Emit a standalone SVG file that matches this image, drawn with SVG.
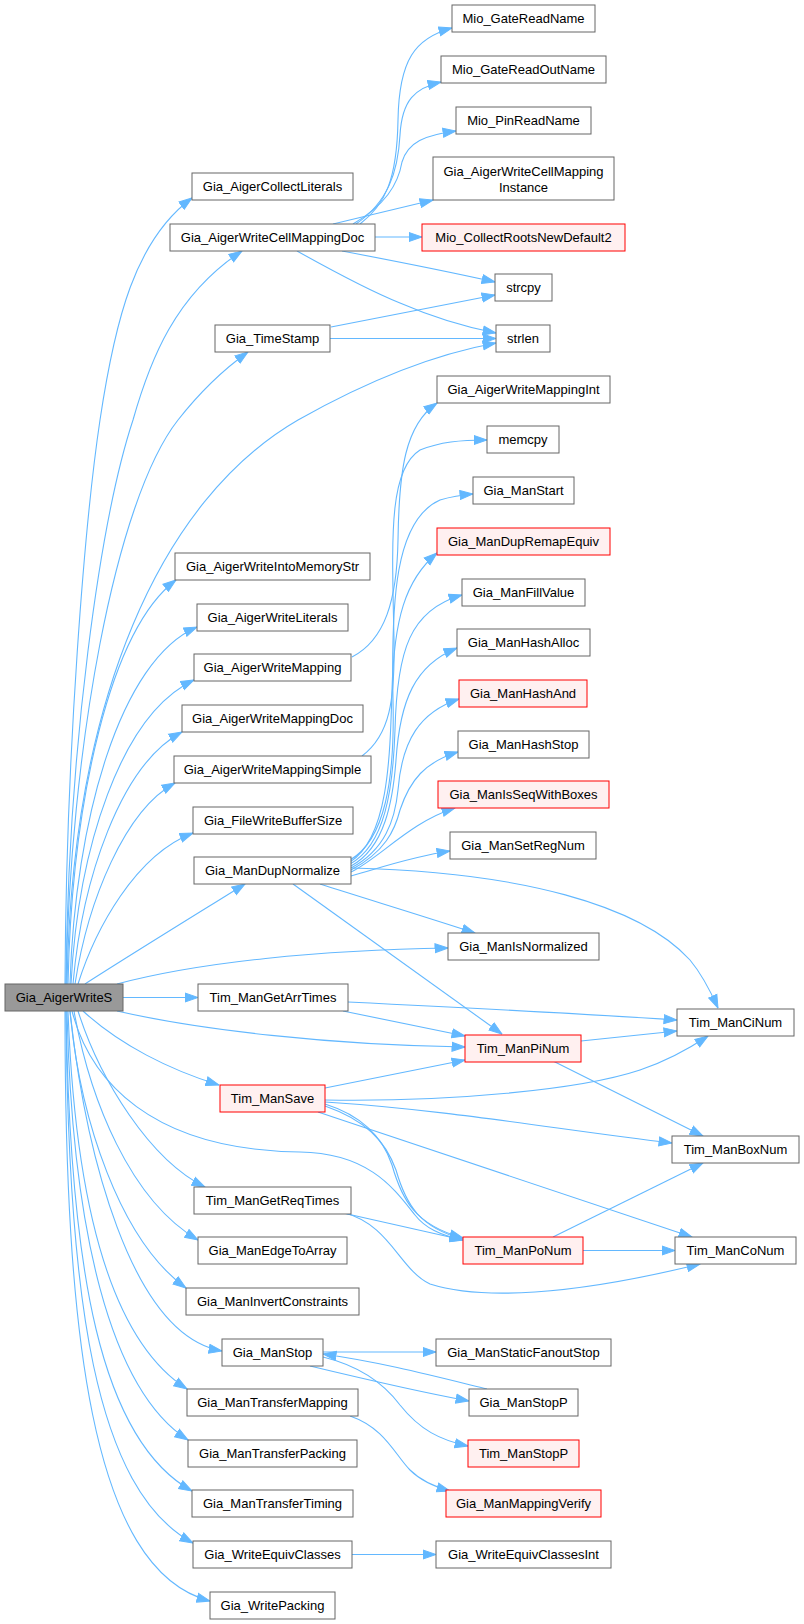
<svg xmlns="http://www.w3.org/2000/svg" width="804" height="1624" viewBox="0 0 804 1624">
<defs>
<marker id="ah" markerUnits="userSpaceOnUse" markerWidth="14" markerHeight="11" viewBox="0 0 14 11" refX="13.5" refY="5.5" orient="auto">
<path d="M0.5,1 L13.5,5.5 L0.5,10 z" fill="#63b8ff" stroke="#63b8ff" stroke-width="1"/>
</marker>
</defs>
<style>
.n rect{fill:#ffffff;stroke:#666666;stroke-width:1}
.r rect{fill:#fff0f0;stroke:#ff0000;stroke-width:1}
.root rect{fill:#999999;stroke:#666666;stroke-width:1}
text{font-family:"Liberation Sans",Arial,sans-serif;font-size:13px;fill:#000;text-anchor:middle}
.e path{fill:none;stroke:#63b8ff;stroke-width:1.1;marker-end:url(#ah)}
</style>
<rect width="804" height="1624" fill="#ffffff"/>
<g class="e" id="edges">
<path d="M65,984 C66,750 85,520 100,420 C115,320 135,240 192,198"/>
<path d="M66,984 C68,750 100,520 133,420 C150,360 175,295 242,251"/>
<path d="M66,984 C70,750 115,500 178,420 C200,392 220,372 248,352"/>
<path d="M67,984 C72,700 160,500 298,420 C360,385 430,355 496,343"/>
<path d="M68,984 C72,800 110,630 176,580"/>
<path d="M70,984 C75,820 120,660 197,627"/>
<path d="M71,984 C78,850 120,715 194,680"/>
<path d="M73,984 C82,880 120,765 182,732"/>
<path d="M75,984 C88,900 125,810 175,783"/>
<path d="M78,984 C95,930 135,855 193,833"/>
<path d="M85,984 C130,955 200,912 245,884"/>
<path d="M117,984 C200,962 320,950 448,948"/>
<path d="M123,997.5 L198,997.5"/>
<path d="M117,1011 C200,1030 330,1045 465,1047"/>
<path d="M83,1011 C120,1045 170,1070 219,1085"/>
<path d="M72,1011 C90,1080 150,1150 300,1152 C370,1153 395,1190 415,1215 C425,1228 440,1235 463,1240"/>
<path d="M78,1011 C100,1080 150,1160 205,1187"/>
<path d="M74,1011 C90,1100 130,1200 198,1240"/>
<path d="M70,1011 C80,1120 120,1240 186,1288"/>
<path d="M70,1011 C85,1150 130,1335 222,1351"/>
<path d="M68,1011 C75,1200 110,1340 187,1389"/>
<path d="M67,1011 C72,1230 110,1390 188,1440"/>
<path d="M66,1011 C70,1270 100,1440 192,1491"/>
<path d="M66,1011 C68,1300 95,1490 193,1543"/>
<path d="M65,1011 C65,1330 90,1570 210,1601"/>
<path d="M360,224 C385,205 397,180 398,120 C399,60 415,38 452,28"/>
<path d="M356,224 C388,202 398,172 400,135 C402,100 415,88 441,82"/>
<path d="M353,224 C385,205 398,185 402,162 C408,142 425,135 456,131"/>
<path d="M333,224 L433,200"/>
<path d="M375,237 L422,237"/>
<path d="M342,251 C400,262 450,272 495,282"/>
<path d="M297,251 C340,275 380,295 400,303 C430,316 460,326 496,333"/>
<path d="M331,327 L495,295"/>
<path d="M330,338.5 L496,338.5"/>
<path d="M352,657 C385,640 397,600 398,540 C399,470 405,425 437,403"/>
<path d="M362,756 C390,735 395,700 394,640 C392,540 388,470 420,450 C440,442 460,440 487,440"/>
<path d="M350,860 C385,840 395,780 393,700 C391,600 395,520 440,500 C450,497 460,495 473,494"/>
<path d="M350,862 C388,838 390,760 392,690 C394,620 405,580 437,553"/>
<path d="M350,864 C385,845 393,790 395,730 C397,650 410,610 462,595"/>
<path d="M351,866 C385,848 393,800 396,760 C400,700 415,665 457,648"/>
<path d="M351,868 C385,850 395,820 398,790 C402,740 420,712 459,699"/>
<path d="M351,870 C385,852 395,830 400,810 C410,780 425,762 458,752"/>
<path d="M351,872 C380,858 410,822 455,808"/>
<path d="M351,876 C380,868 410,857 450,851"/>
<path d="M352,868 C520,872 640,905 690,960 C700,972 710,990 718,1008"/>
<path d="M320,884 C370,900 420,915 475,933"/>
<path d="M293,884 L502,1034"/>
<path d="M348,1002 C450,1007 570,1013 677,1020"/>
<path d="M343,1011 L465,1036"/>
<path d="M581,1041 L677,1031"/>
<path d="M553,1061 L703,1136"/>
<path d="M325,1088 L465,1060"/>
<path d="M325,1100 C450,1102 580,1090 640,1070 C670,1060 690,1048 708,1036"/>
<path d="M325,1102 C450,1110 560,1130 672,1143"/>
<path d="M318,1112 L692,1237"/>
<path d="M325,1104 C360,1115 382,1135 392,1165 C402,1200 415,1225 463,1238"/>
<path d="M325,1106 C365,1120 385,1140 396,1170 C406,1205 420,1228 463,1239"/>
<path d="M343,1213 L463,1240"/>
<path d="M345,1213 C390,1225 400,1270 430,1284 C480,1300 570,1296 700,1264"/>
<path d="M553,1237 L703,1163"/>
<path d="M583,1250.5 L675,1250.5"/>
<path d="M323,1352 L436,1352"/>
<path d="M310,1366 C360,1378 420,1392 469,1401"/>
<path d="M323,1357 C360,1366 385,1385 400,1405 C420,1430 440,1440 468,1446"/>
<path d="M487,1389 C430,1375 380,1362 323,1354"/>
<path d="M350,1416 C385,1428 395,1455 410,1470 C420,1480 432,1486 450,1491"/>
<path d="M352,1554.5 L436,1554.5"/>
</g>
<g id="n_root" class="root"><rect x="5" y="984" width="118" height="27"/><text x="64" y="1002">Gia_AigerWriteS</text></g>
<g id="n1" class="n"><rect x="192" y="173" width="161" height="27"/><text x="272.5" y="191">Gia_AigerCollectLiterals</text></g>
<g id="n2" class="n"><rect x="170" y="224" width="205" height="27"/><text x="272.5" y="242">Gia_AigerWriteCellMappingDoc</text></g>
<g id="n3" class="n"><rect x="215" y="325" width="115" height="27"/><text x="272.5" y="343">Gia_TimeStamp</text></g>
<g id="n4" class="n"><rect x="175" y="553" width="195" height="27"/><text x="272.5" y="571">Gia_AigerWriteIntoMemoryStr</text></g>
<g id="n5" class="n"><rect x="197" y="604" width="151" height="27"/><text x="272.5" y="622">Gia_AigerWriteLiterals</text></g>
<g id="n6" class="n"><rect x="194" y="654" width="157" height="27"/><text x="272.5" y="672">Gia_AigerWriteMapping</text></g>
<g id="n7" class="n"><rect x="182" y="705" width="181" height="27"/><text x="272.5" y="723">Gia_AigerWriteMappingDoc</text></g>
<g id="n8" class="n"><rect x="174" y="756" width="197" height="27"/><text x="272.5" y="774">Gia_AigerWriteMappingSimple</text></g>
<g id="n9" class="n"><rect x="193" y="807" width="160" height="27"/><text x="273" y="825">Gia_FileWriteBufferSize</text></g>
<g id="n10" class="n"><rect x="194" y="857" width="157" height="27"/><text x="272.5" y="875">Gia_ManDupNormalize</text></g>
<g id="n11" class="n"><rect x="198" y="984" width="150" height="27"/><text x="273" y="1002">Tim_ManGetArrTimes</text></g>
<g id="n12" class="r"><rect x="220" y="1085" width="105" height="27"/><text x="272.5" y="1103">Tim_ManSave</text></g>
<g id="n13" class="n"><rect x="194" y="1187" width="157" height="27"/><text x="272.5" y="1205">Tim_ManGetReqTimes</text></g>
<g id="n14" class="n"><rect x="198" y="1237" width="149" height="27"/><text x="272.5" y="1255">Gia_ManEdgeToArray</text></g>
<g id="n15" class="n"><rect x="186" y="1288" width="173" height="27"/><text x="272.5" y="1306">Gia_ManInvertConstraints</text></g>
<g id="n16" class="n"><rect x="222" y="1339" width="101" height="27"/><text x="272.5" y="1357">Gia_ManStop</text></g>
<g id="n17" class="n"><rect x="187" y="1389" width="171" height="27"/><text x="272.5" y="1407">Gia_ManTransferMapping</text></g>
<g id="n18" class="n"><rect x="188" y="1440" width="169" height="27"/><text x="272.5" y="1458">Gia_ManTransferPacking</text></g>
<g id="n19" class="n"><rect x="192" y="1490" width="161" height="27"/><text x="272.5" y="1508">Gia_ManTransferTiming</text></g>
<g id="n20" class="n"><rect x="193" y="1541" width="159" height="27"/><text x="272.5" y="1559">Gia_WriteEquivClasses</text></g>
<g id="n21" class="n"><rect x="210" y="1592" width="125" height="27"/><text x="272.5" y="1610">Gia_WritePacking</text></g>
<g id="n22" class="n"><rect x="452" y="5" width="143" height="27"/><text x="523.5" y="23">Mio_GateReadName</text></g>
<g id="n23" class="n"><rect x="441" y="56" width="165" height="27"/><text x="523.5" y="74">Mio_GateReadOutName</text></g>
<g id="n24" class="n"><rect x="456" y="107" width="135" height="27"/><text x="523.5" y="125">Mio_PinReadName</text></g>
<g id="n25" class="n"><rect x="433" y="157" width="181" height="43"/><text x="523.5" y="175.5">Gia_AigerWriteCellMapping</text><text x="523.5" y="191.5">Instance</text></g>
<g id="n26" class="r"><rect x="422" y="224" width="203" height="27"/><text x="523.5" y="242">Mio_CollectRootsNewDefault2</text></g>
<g id="n27" class="n"><rect x="495" y="274" width="57" height="27"/><text x="523.5" y="292">strcpy</text></g>
<g id="n28" class="n"><rect x="496" y="325" width="54" height="27"/><text x="523" y="343">strlen</text></g>
<g id="n29" class="n"><rect x="437" y="376" width="173" height="27"/><text x="523.5" y="394">Gia_AigerWriteMappingInt</text></g>
<g id="n30" class="n"><rect x="487" y="426" width="72" height="27"/><text x="523" y="444">memcpy</text></g>
<g id="n31" class="n"><rect x="473" y="477" width="101" height="27"/><text x="523.5" y="495">Gia_ManStart</text></g>
<g id="n32" class="r"><rect x="437" y="528" width="173" height="27"/><text x="523.5" y="546">Gia_ManDupRemapEquiv</text></g>
<g id="n33" class="n"><rect x="462" y="579" width="123" height="27"/><text x="523.5" y="597">Gia_ManFillValue</text></g>
<g id="n34" class="n"><rect x="457" y="629" width="133" height="27"/><text x="523.5" y="647">Gia_ManHashAlloc</text></g>
<g id="n35" class="r"><rect x="459" y="680" width="128" height="27"/><text x="523" y="698">Gia_ManHashAnd</text></g>
<g id="n36" class="n"><rect x="458" y="731" width="131" height="27"/><text x="523.5" y="749">Gia_ManHashStop</text></g>
<g id="n37" class="r"><rect x="438" y="781" width="171" height="27"/><text x="523.5" y="799">Gia_ManIsSeqWithBoxes</text></g>
<g id="n38" class="n"><rect x="450" y="832" width="146" height="27"/><text x="523" y="850">Gia_ManSetRegNum</text></g>
<g id="n39" class="n"><rect x="448" y="933" width="151" height="27"/><text x="523.5" y="951">Gia_ManIsNormalized</text></g>
<g id="n40" class="r"><rect x="465" y="1035" width="116" height="27"/><text x="523" y="1053">Tim_ManPiNum</text></g>
<g id="n41" class="r"><rect x="463" y="1237" width="120" height="27"/><text x="523" y="1255">Tim_ManPoNum</text></g>
<g id="n42" class="n"><rect x="677" y="1009" width="117" height="27"/><text x="735.5" y="1027">Tim_ManCiNum</text></g>
<g id="n43" class="n"><rect x="672" y="1136" width="127" height="27"/><text x="735.5" y="1154">Tim_ManBoxNum</text></g>
<g id="n44" class="n"><rect x="675" y="1237" width="121" height="27"/><text x="735.5" y="1255">Tim_ManCoNum</text></g>
<g id="n45" class="n"><rect x="436" y="1339" width="175" height="27"/><text x="523.5" y="1357">Gia_ManStaticFanoutStop</text></g>
<g id="n46" class="n"><rect x="469" y="1389" width="109" height="27"/><text x="523.5" y="1407">Gia_ManStopP</text></g>
<g id="n47" class="r"><rect x="468" y="1440" width="111" height="27"/><text x="523.5" y="1458">Tim_ManStopP</text></g>
<g id="n48" class="r"><rect x="446" y="1490" width="155" height="27"/><text x="523.5" y="1508">Gia_ManMappingVerify</text></g>
<g id="n49" class="n"><rect x="436" y="1541" width="175" height="27"/><text x="523.5" y="1559">Gia_WriteEquivClassesInt</text></g>
</svg>
